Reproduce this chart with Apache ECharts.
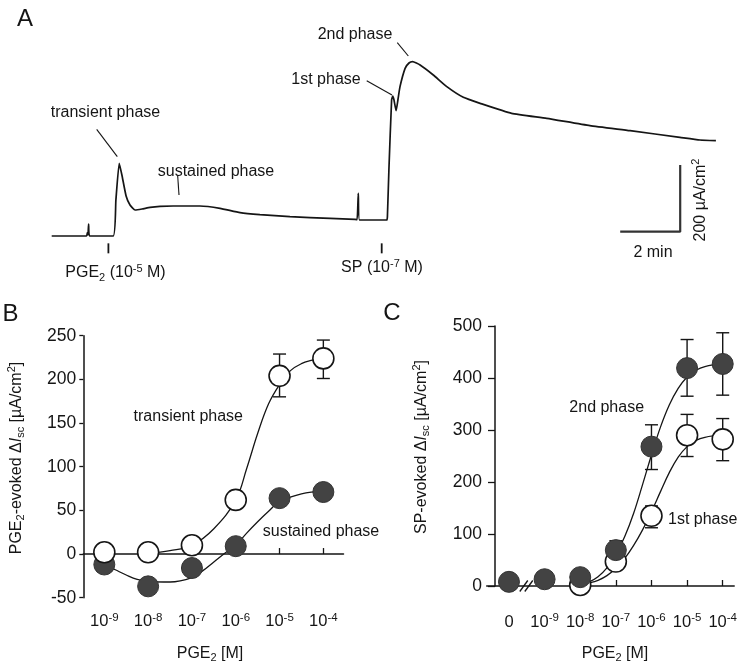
<!DOCTYPE html>
<html>
<head>
<meta charset="utf-8">
<script src="https://cdn.jsdelivr.net/npm/echarts@6/dist/echarts.min.js"></script>
<style>
  html, body { margin: 0; padding: 0; background: #fff; }
  #chart { width: 740px; height: 662px; }
</style>
</head>
<body>
<div id="chart"></div>
<script>
// ---------- Panel A: short-circuit current recording ----------
// time in minutes from the start of the trace, current in µA/cm² above the initial baseline
const traceTime = [0, 1.16, 1.19, 1.21, 1.23, 1.26, 2.05, 2.14, 2.25, 2.34, 2.48, 2.61, 2.78, 3.01, 3.28, 3.61,
  4.05, 4.94, 5.61, 6.28, 6.94, 7.94, 9.28, 10.11, 10.18, 10.22, 10.26, 11.17, 11.19, 11.24, 11.33, 11.37,
  11.41, 11.48, 11.54, 11.61, 11.78, 11.91, 12.03, 12.28, 12.72, 13.17, 13.72, 14.28, 15.33, 16.5, 17.94,
  19.28, 20.94, 21.61, 22.14];
const traceCurrent = [0, 0, 10, 4, 36, 0, 0, 108, 218, 183, 120, 93, 78, 81, 86, 89,
  90, 90, 83, 70, 64, 58, 53, 50, 49, 128, 48, 48, 58, 198, 408, 420,
  408, 376, 408, 448, 503, 519, 523, 513, 483, 448, 416, 398, 368, 353, 331,
  316, 296, 288, 286];
// drug additions (min)
const stimTimes = [1.89, 11.0];
const stimTickSpan = [-22, -52];
// calibration bar: 2 min by 200 µA/cm²
const scaleBarTime = [18.95, 20.95, 20.95];
const scaleBarCurrent = [13, 13, 213];

// ---------- Panel B: PGE2 concentration-response ----------
const concLogB = [-9, -8, -7, -6, -5, -4];
const concLabelsB = ['10^-9', '10^-8', '10^-7', '10^-6', '10^-5', '10^-4'];
const transientMean = [2, 2, 10, 62, 204, 224];
const transientLow = [null, null, null, null, 180, 201];
const transientHigh = [null, null, null, null, 229, 245];
const sustainedMean = [-12, -37, -16, 9, 64, 71];
const transientFitLog = [-8, -7.5, -7, -6.5, -6, -5.75, -5.5, -5.25, -5, -4.75, -4.5, -4.25, -4];
const transientFitVal = [1, 4, 10, 29, 62, 98, 138, 172, 194, 210, 218, 222, 225];
const sustainedFitLog = [-9, -8.75, -8.5, -8.25, -8, -7.5, -7, -6.75, -6.5, -6.25, -6, -5.75, -5.5, -5.25, -5, -4.5, -4];
const sustainedFitVal = [-12, -18, -24, -29, -31.5, -32, -27, -19, -9, 1, 10, 24, 37, 49, 60, 69, 72];

// ---------- Panel C: SP response after PGE2 pretreatment ----------
// "0" (no PGE2) sits one decade left of 10^-9 behind the axis break
const concLogC = [-10, -9, -8, -7, -6, -5, -4];
const concLabelsC = ['0', '10^-9', '10^-8', '10^-7', '10^-6', '10^-5', '10^-4'];
const secondMean = [8, 13, 17, 69, 268, 419, 427];
const secondLow = [null, null, null, 51, 224, 365, 367];
const secondHigh = [null, null, null, 87, 310, 474, 487];
const firstMean = [null, null, 2, 47, 135, 290, 282];
const firstLow = [null, null, null, null, 112, 249, 241];
const firstHigh = [null, null, null, null, 154, 330, 322];
const secondFitLog = [-8, -7.75, -7.5, -7.25, -7, -6.75, -6.5, -6.25, -6, -5.75, -5.5, -5.25, -5, -4.75, -4.5, -4];
const secondFitVal = [3, 8, 18, 35, 60, 95, 140, 195, 252, 305, 348, 380, 402, 415, 422, 428];
const firstFitLog = [-8, -7.75, -7.5, -7.25, -7, -6.75, -6.5, -6.25, -6, -5.75, -5.5, -5.25, -5, -4.75, -4.5, -4];
const firstFitVal = [3, 6, 11, 20, 34, 53, 78, 108, 143, 181, 218, 248, 268, 280, 286, 291];

// ---------- styling ----------
const FONT = "'Liberation Sans', Arial, sans-serif";
const INK = '#151515';
const DOT = '#434343';

const chart = echarts.init(document.getElementById('chart'), null, { renderer: 'canvas' });

const zip = (xs, ys) => xs.map((x, i) => [x, ys[i]]).filter(p => p[1] !== null);
const errData = (xs, lo, hi) => xs.map((x, i) => [x, lo[i], hi[i]]).filter(p => p[1] !== null);

// "10^-9" -> rich text with a raised exponent
function powerLabel(s) {
  const parts = s.split('^');
  return parts.length === 1 ? '{b|' + s + '}' : '{b|' + parts[0] + '}{s|' + parts[1] + '}';
}
const tickRich = {
  b: { fontSize: 16.5, lineHeight: 20, fontFamily: FONT, color: INK },
  s: { fontSize: 11.5, lineHeight: 11, verticalAlign: 'top', fontFamily: FONT, color: INK }
};

function errorBars(xAxisIndex, yAxisIndex, data, z) {
  return {
    type: 'custom', xAxisIndex, yAxisIndex, z, data,
    renderItem: (params, api) => {
      const top = api.coord([api.value(0), api.value(2)]);
      const bot = api.coord([api.value(0), api.value(1)]);
      const hw = 6.5;
      const st = { stroke: INK, lineWidth: 1.4 };
      return {
        type: 'group', children: [
          { type: 'line', shape: { x1: top[0], y1: top[1], x2: bot[0], y2: bot[1] }, style: st },
          { type: 'line', shape: { x1: top[0] - hw, y1: top[1], x2: top[0] + hw, y2: top[1] }, style: st },
          { type: 'line', shape: { x1: bot[0] - hw, y1: bot[1], x2: bot[0] + hw, y2: bot[1] }, style: st }
        ]
      };
    }
  };
}

function fitLine(xAxisIndex, yAxisIndex, xs, ys) {
  return {
    type: 'line', xAxisIndex, yAxisIndex, data: zip(xs, ys), showSymbol: false, smooth: 0.4,
    lineStyle: { color: INK, width: 1.3 }, z: 2, silent: true
  };
}

function dots(xAxisIndex, yAxisIndex, xs, ys, filled, z) {
  return {
    type: 'scatter', xAxisIndex, yAxisIndex, data: zip(xs, ys), symbol: 'circle', symbolSize: 21, z,
    itemStyle: filled
      ? { color: DOT, borderColor: '#333', borderWidth: 1, opacity: 1 }
      : { color: '#fff', borderColor: INK, borderWidth: 1.6, opacity: 1 }
  };
}

const option = {
  backgroundColor: '#fff',
  animation: false,
  grid: [
    { left: 51.7, top: 22.67, width: 666, height: 240 },
    { left: 83.3, top: 335.7, width: 260.2, height: 262 },
    { left: 486.7, top: 326, width: 251.3, height: 260 }
  ],
  xAxis: [
    { gridIndex: 0, type: 'value', min: 0, max: 22.2, show: false },
    {
      gridIndex: 1, type: 'value', min: -9.48, max: -3.54, position: 'bottom',
      axisLine: { onZero: true, lineStyle: { color: INK, width: 1.5 } },
      axisTick: { inside: true, length: 6, customValues: concLogB, lineStyle: { color: INK, width: 1.3 } },
      axisLabel: { show: false }, splitLine: { show: false }
    },
    {
      gridIndex: 1, type: 'value', min: -9.48, max: -3.54, position: 'bottom',
      axisLine: { show: false, onZero: false }, axisTick: { show: false }, splitLine: { show: false },
      axisLabel: {
        margin: 14, customValues: concLogB, rich: tickRich,
        formatter: v => powerLabel(concLabelsB[concLogB.indexOf(Math.round(v))])
      }
    },
    {
      gridIndex: 2, type: 'value', min: -10.625, max: -3.677, position: 'bottom',
      axisLine: { onZero: false, lineStyle: { color: INK, width: 1.5 } },
      axisTick: { inside: true, length: 6, customValues: concLogC, lineStyle: { color: INK, width: 1.3 } },
      splitLine: { show: false },
      axisLabel: {
        margin: 26, customValues: concLogC, rich: tickRich,
        formatter: v => powerLabel(concLabelsC[concLogC.indexOf(Math.round(v))])
      }
    }
  ],
  yAxis: [
    { gridIndex: 0, type: 'value', min: -80, max: 640, show: false },
    {
      gridIndex: 1, type: 'value', min: -50, max: 250, interval: 50,
      axisLine: { show: true, onZero: false, lineStyle: { color: INK, width: 1.5 } },
      axisTick: { show: true, length: 4, lineStyle: { color: INK, width: 1.3 } },
      axisLabel: { margin: 7, fontSize: 17.5, fontFamily: FONT, color: INK },
      splitLine: { show: false }
    },
    {
      gridIndex: 2, type: 'value', min: 0, max: 500, interval: 100, offset: -8.3,
      axisLine: { show: true, onZero: false, lineStyle: { color: INK, width: 1.5 } },
      axisTick: { show: true, length: 7, lineStyle: { color: INK, width: 1.3 } },
      axisLabel: { margin: 13, fontSize: 17.5, fontFamily: FONT, color: INK },
      splitLine: { show: false }
    }
  ],
  series: [
    // recording trace
    {
      type: 'line', xAxisIndex: 0, yAxisIndex: 0, data: zip(traceTime, traceCurrent),
      showSymbol: false, smooth: 0.15, lineStyle: { color: INK, width: 1.7 }, z: 2
    },
    // drug addition marks
    {
      type: 'custom', xAxisIndex: 0, yAxisIndex: 0, data: stimTimes.map(t => [t]),
      renderItem: (params, api) => {
        const a = api.coord([api.value(0), stimTickSpan[0]]);
        const b = api.coord([api.value(0), stimTickSpan[1]]);
        return { type: 'line', shape: { x1: a[0], y1: a[1], x2: b[0], y2: b[1] }, style: { stroke: INK, lineWidth: 1.8 } };
      }
    },
    // calibration bar
    {
      type: 'line', xAxisIndex: 0, yAxisIndex: 0, data: zip(scaleBarTime, scaleBarCurrent),
      showSymbol: false, lineStyle: { color: '#333', width: 2.2 }, z: 2
    },
    // panel B
    fitLine(1, 1, transientFitLog, transientFitVal),
    fitLine(1, 1, sustainedFitLog, sustainedFitVal),
    errorBars(1, 1, errData(concLogB, transientLow, transientHigh), 3),
    dots(1, 1, concLogB, sustainedMean, true, 4),
    dots(1, 1, concLogB, transientMean, false, 5),
    // panel C
    fitLine(3, 2, secondFitLog, secondFitVal),
    fitLine(3, 2, firstFitLog, firstFitVal),
    errorBars(3, 2, errData(concLogC, firstLow, firstHigh), 3),
    errorBars(3, 2, errData(concLogC, secondLow, secondHigh), 3),
    dots(3, 2, concLogC, firstMean, false, 4),
    dots(3, 2, concLogC, secondMean, true, 5)
  ]
};
chart.setOption(option);

// ---------- text and annotations ----------
const txtRich = {
  sub: { fontSize: 11, lineHeight: 11, verticalAlign: 'bottom', fontFamily: FONT, fill: INK },
  sup: { fontSize: 11, lineHeight: 11, verticalAlign: 'top', fontFamily: FONT, fill: INK },
  it: { fontSize: 16, lineHeight: 20, fontStyle: 'italic', fontFamily: FONT, fill: INK },
  n: { fontSize: 16, lineHeight: 20, fontFamily: FONT, fill: INK }
};
function label(x, y, text, opts) {
  opts = opts || {};
  return {
    type: 'text', x, y, rotation: opts.rotation || 0, z: 10,
    style: {
      text, fill: INK, fontFamily: FONT, fontSize: opts.size || 16,
      align: opts.align || 'center', verticalAlign: 'middle', rich: txtRich
    }
  };
}
function stroke(x1, y1, x2, y2, w) {
  return { type: 'line', z: 10, shape: { x1, y1, x2, y2 }, style: { stroke: INK, lineWidth: w || 1.1 } };
}

const brk = chart.convertToPixel({ xAxisIndex: 3, yAxisIndex: 2 }, [-9.5, 0]);

chart.setOption({
  graphic: [
    label(25, 19, 'A', { size: 24 }),
    label(10.5, 314, 'B', { size: 24 }),
    label(392, 313, 'C', { size: 24 }),

    label(105.5, 113, 'transient phase'),
    stroke(96.7, 129.3, 117.3, 156.7),
    label(216, 171.7, 'sustained phase'),
    stroke(177.7, 176, 179, 195),
    label(326, 80, '1st phase'),
    stroke(366.7, 80.7, 392, 95),
    label(355, 35, '2nd phase'),
    stroke(397.3, 42.7, 408.3, 56),
    label(115.5, 273, '{n|PGE}{sub|2}{n| (10}{sup|-5}{n| M)}'),
    label(382, 268, '{n|SP (10}{sup|-7}{n| M)}'),
    label(653, 253, '2 min'),
    label(700.7, 200, '{n|200 µA/cm}{sup|2}', { rotation: Math.PI / 2 }),

    label(188.3, 416.7, 'transient phase'),
    label(321, 531.7, 'sustained phase'),
    label(16.7, 458, '{n|PGE}{sub|2}{n|-evoked Δ}{it|I}{sub|sc}{n| [µA/cm}{sup|2}{n|]}', { rotation: Math.PI / 2 }),
    label(210, 653.3, '{n|PGE}{sub|2}{n| [M]}'),

    label(606.7, 408, '2nd phase'),
    label(668, 520, '1st phase', { align: 'left' }),
    label(421.7, 447, '{n|SP-evoked Δ}{it|I}{sub|sc}{n| [µA/cm}{sup|2}{n|]}', { rotation: Math.PI / 2 }),
    label(615, 653.3, '{n|PGE}{sub|2}{n| [M]}'),

    // axis break marks
    stroke(brk[0] - 7, brk[1] + 5.5, brk[0] + 1, brk[1] - 5.5, 1.3),
    stroke(brk[0] - 2, brk[1] + 5.5, brk[0] + 6, brk[1] - 5.5, 1.3)
  ]
});
</script>
</body>
</html>
